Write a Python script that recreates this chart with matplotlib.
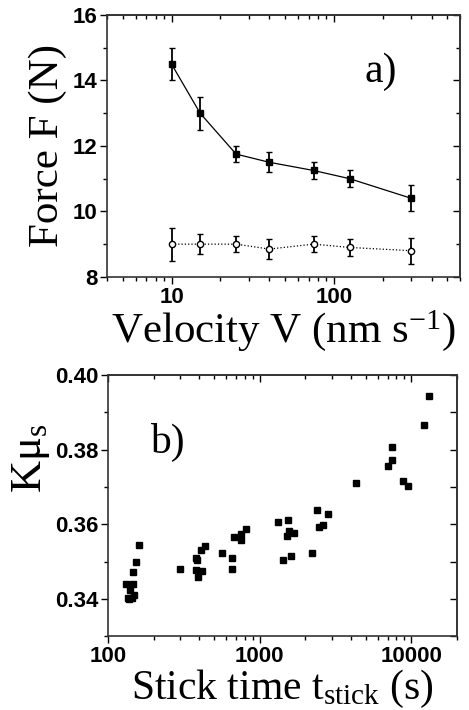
import numpy as np
import matplotlib
matplotlib.use("Agg")
import matplotlib.pyplot as plt
from matplotlib.ticker import LogLocator, MultipleLocator, FormatStrFormatter, NullFormatter

# panel a) force vs velocity
velocity = [10, 15, 25, 40, 75, 125, 300]
force_filled = [14.5, 13.0, 11.75, 11.5, 11.25, 11.0, 10.4]
err_filled = [0.5, 0.5, 0.25, 0.3, 0.25, 0.25, 0.4]
force_open = [9.0, 9.0, 9.0, 8.85, 9.0, 8.9, 8.8]
err_open = [0.5, 0.3, 0.25, 0.3, 0.25, 0.25, 0.4]

# panel b) K mu_s vs stick time
t_stick = [131, 138, 145, 149, 141, 146, 136, 147, 154, 160,
           297, 381, 388, 409, 437, 379, 419, 393, 563, 656, 662, 679, 753, 759, 816,
           1315, 1549, 1565, 1518, 1679, 1428, 1622, 2233, 2398, 2459, 2630, 2821,
           4304, 7040, 7450, 7530, 8850, 9550, 12200, 13150]
k_mu = [0.3439, 0.3400, 0.3403, 0.3409, 0.3425, 0.3441, 0.3402, 0.3471, 0.3498, 0.3543,
        0.3481, 0.3510, 0.3504, 0.3530, 0.3541, 0.3477, 0.3474, 0.3459, 0.3523, 0.3510, 0.3479, 0.3565, 0.3557, 0.3575, 0.3587,
        0.3605, 0.3610, 0.3583, 0.3568, 0.3576, 0.3505, 0.3516, 0.3524, 0.3637, 0.3592, 0.3599, 0.3626,
        0.3709, 0.3755, 0.3771, 0.3807, 0.3715, 0.3701, 0.3866, 0.3944]

plt.rcParams["mathtext.fontset"] = "custom"
plt.rcParams["mathtext.rm"] = "Liberation Serif"
plt.rcParams["mathtext.it"] = "Liberation Serif:italic"

serif = "Liberation Serif"
sans = "Liberation Sans"
LABEL_FS = 31
TICK_FS = 16

fig = plt.figure(figsize=(4.69, 7.10), dpi=100)
ax1 = fig.add_axes([0.228, 0.610, 0.753, 0.369])
ax2 = fig.add_axes([0.230, 0.104, 0.744, 0.368])


def log_ticks(axis):
    axis.set_major_locator(LogLocator(base=10, numticks=10))
    axis.set_minor_locator(LogLocator(base=10, subs=np.arange(2, 10), numticks=10))
    axis.set_minor_formatter(NullFormatter())


def style_axes(ax, ymaj, ymin):
    for sp in ax.spines.values():
        sp.set_linewidth(1.2)
        sp.set_color("#333333")
    ax.tick_params(which="both", direction="out", width=1.0, labelsize=TICK_FS, pad=2)
    ax.tick_params(which="major", length=5)
    ax.tick_params(which="minor", length=3)
    for lbl in ax.get_xticklabels() + ax.get_yticklabels():
        lbl.set_fontfamily(sans)
        lbl.set_fontweight("bold")
    # inward ticks on the top and right edges
    top = ax.secondary_xaxis("top")
    log_ticks(top.xaxis)
    right = ax.secondary_yaxis("right")
    right.yaxis.set_major_locator(MultipleLocator(ymaj))
    right.yaxis.set_minor_locator(MultipleLocator(ymin))
    for sec in (top, right):
        sec.tick_params(which="both", direction="in", width=1.0, labeltop=False,
                        labelright=False)
        sec.tick_params(which="major", length=5)
        sec.tick_params(which="minor", length=3)
        for sp in sec.spines.values():
            sp.set_linewidth(1.2)
            sp.set_color("#333333")


ax1.errorbar(velocity, force_filled, yerr=err_filled, fmt="s-", color="black",
             ms=5, lw=0.9, elinewidth=1.3, capsize=2.2, capthick=1.0)
ax1.errorbar(velocity, force_open, yerr=err_open, fmt="o:", color="black",
             mfc="white", ms=4.5, lw=0.9, elinewidth=1.3, capsize=2.2, capthick=1.0)
ax1.set_xscale("log")
ax1.set_xlim(4, 600)
ax1.set_ylim(8, 16)
ax1.yaxis.set_major_locator(MultipleLocator(2))
ax1.yaxis.set_minor_locator(MultipleLocator(1))
log_ticks(ax1.xaxis)
ax1.xaxis.set_major_formatter(FormatStrFormatter("%d"))
ax1.set_xlabel(r"Velocity V (nm s$^{\mathregular{-1}}$)", family=serif, fontsize=LABEL_FS, labelpad=0)
ax1.set_ylabel("Force F (N)", family=serif, fontsize=LABEL_FS, labelpad=4)
ax1.text(0.73, 0.745, "a)", transform=ax1.transAxes, family=serif, fontsize=30)
style_axes(ax1, 2, 1)

ax2.plot(t_stick, k_mu, "s", color="black", ms=4.5)
ax2.set_xscale("log")
ax2.set_xlim(100, 20000)
ax2.set_ylim(0.33, 0.40)
ax2.yaxis.set_major_locator(MultipleLocator(0.02))
ax2.yaxis.set_minor_locator(MultipleLocator(0.01))
ax2.yaxis.set_major_formatter(FormatStrFormatter("%.2f"))
log_ticks(ax2.xaxis)
ax2.xaxis.set_major_formatter(FormatStrFormatter("%d"))
ax2.set_xlabel(r"Stick time t$_{\mathregular{stick}}$ (s)", family=serif, fontsize=30, labelpad=1)
ax2.set_ylabel(r"Kμ$_{\mathregular{s}}$", family=serif, fontsize=32)
ax2.yaxis.set_label_coords(-0.16, 0.68)
ax2.text(0.12, 0.70, "b)", transform=ax2.transAxes, family=serif, fontsize=30)
style_axes(ax2, 0.01, 0.01)

fig.savefig("out.png", dpi=100)
